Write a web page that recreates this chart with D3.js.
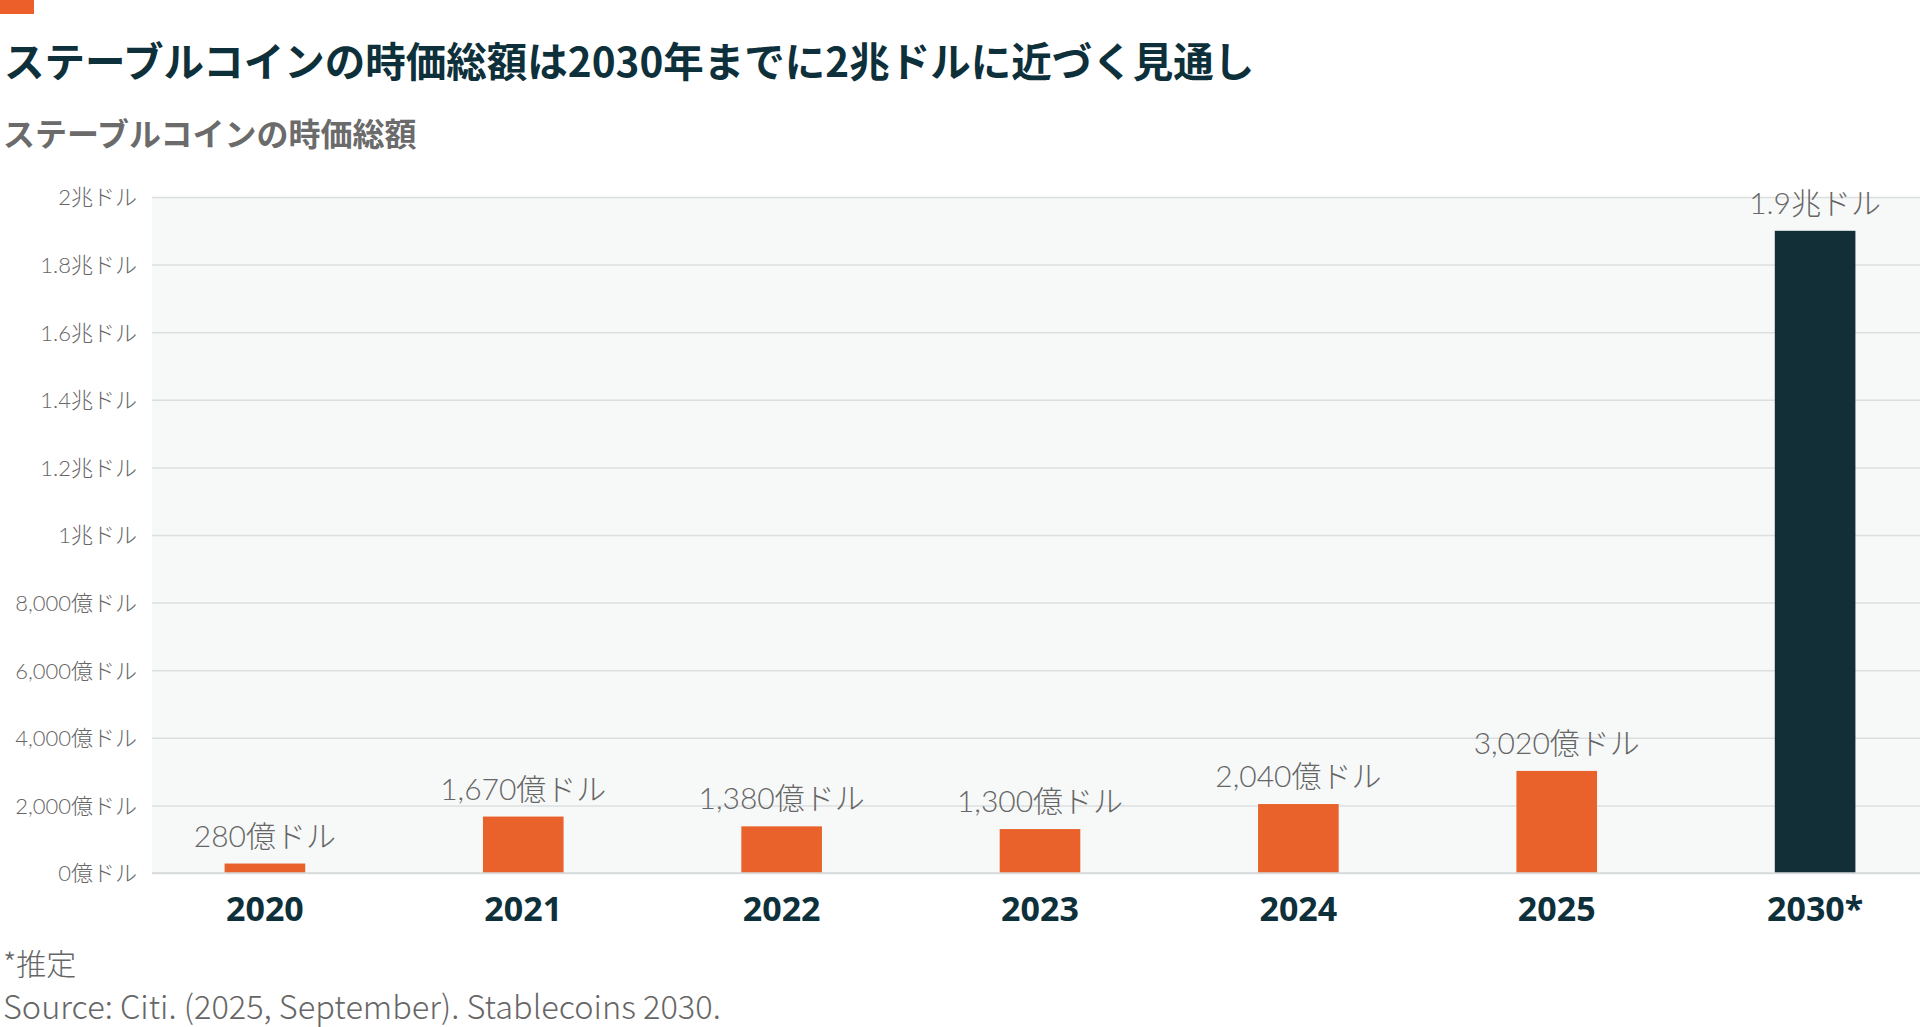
<!DOCTYPE html>
<html>
<head>
<meta charset="utf-8">
<script src="https://cdn.jsdelivr.net/npm/d3@7"></script>
<style>
  body { margin: 0; background: #fff; }
  svg text { font-family: "Noto Sans CJK JP", "Noto Sans", sans-serif; }
  .lbl { font-family: Lato, "Noto Sans CJK JP", sans-serif !important; }
</style>
</head>
<body>
<div id="vis-container"></div>
<script>
// data: stablecoin market cap, in 億ドル (100 million USD)
const years = ["2020", "2021", "2022", "2023", "2024", "2025", "2030*"];
const marketCap = [280, 1670, 1380, 1300, 2040, 3020, 19000];
const yTicks = [0, 2000, 4000, 6000, 8000, 10000, 12000, 14000, 16000, 18000, 20000];

const data = years.map((y, i) => ({ year: y, value: marketCap[i] }));

let width = 1920;
let height = 1027;
let margins = { top: 197, right: 0, bottom: 154, left: 152 };
let visWidth = width - margins.left - margins.right;
let visHeight = height - margins.top - margins.bottom;

let svg = d3.select("#vis-container").append("svg")
    .attr("width", width).attr("height", height);

// label format: 億ドル below 1兆, 兆ドル above
function fmt(v) {
    if (v >= 10000) return d3.format("~g")(v / 10000) + "兆ドル";
    return d3.format(",")(v) + "億ドル";
}

// header
svg.append("rect").attr("x", 0).attr("y", 0).attr("width", 34).attr("height", 14).attr("fill", "#ec5f2a");
svg.append("text").attr("x", 4).attr("y", 77)
    .text("ステーブルコインの時価総額は2030年までに2兆ドルに近づく見通し")
    .style("font-size", "40.5px").style("font-weight", 700).style("fill", "#0e303b");
svg.append("text").attr("x", 3).attr("y", 146)
    .text("ステーブルコインの時価総額")
    .style("font-size", "32px").style("font-weight", 700).style("fill", "#6b6b6b");

let viewport = svg.append("g")
    .attr("transform", "translate(" + margins.left + "," + margins.top + ")");

viewport.append("rect").attr("width", visWidth).attr("height", visHeight).attr("fill", "#f7f9f9");

let xScale = d3.scaleBand()
    .domain(years)
    .range([8, visWidth])
    .paddingInner(0.688)
    .paddingOuter(0.25);

let yScale = d3.scaleLinear()
    .domain([0, 20000])
    .range([visHeight, 0]);

// gridlines + y labels
let yAxis = viewport.append("g")
    .call(d3.axisLeft(yScale).tickValues(yTicks).tickSize(-visWidth).tickFormat(fmt).tickPadding(15));
yAxis.select(".domain").remove();
yAxis.selectAll(".tick line").attr("stroke", "#dcdfdf").attr("stroke-width", 1.5);
yAxis.selectAll(".tick text")
    .attr("class", "lbl")
    .style("font-size", "22px").style("font-weight", 300).style("fill", "#666")
    .attr("dy", "0.36em");

// bars
viewport.append("g").selectAll("rect")
    .data(data).enter().append("rect")
    .attr("x", d => xScale(d.year))
    .attr("y", d => yScale(d.value))
    .attr("width", xScale.bandwidth())
    .attr("height", d => visHeight - yScale(d.value))
    .attr("fill", d => d.year === "2030*" ? "#122e37" : "#e9612b");

// value labels
viewport.append("g").selectAll("text")
    .data(data).enter().append("text")
    .attr("class", "lbl")
    .attr("x", d => xScale(d.year) + xScale.bandwidth() / 2)
    .attr("y", d => yScale(d.value) - 17)
    .attr("text-anchor", "middle")
    .text(d => fmt(d.value))
    .style("font-size", "30px").style("font-weight", 300).style("fill", "#666");

// x axis
let xAxis = viewport.append("g")
    .attr("transform", "translate(0," + visHeight + ")")
    .call(d3.axisBottom(xScale).tickSize(0).tickPadding(24));
xAxis.select(".domain").attr("stroke", "#d6dada").attr("stroke-width", 1.5).attr("d", "M0,0H" + visWidth);
xAxis.selectAll(".tick text")
    .style("font-family", "'Noto Sans', sans-serif")
    .style("font-size", "34px").style("font-weight", 700).style("fill", "#0e303b")
    .attr("dy", "0.71em");

// footer
svg.append("text").attr("x", 3).attr("y", 975).text("*推定")
    .style("font-size", "30px").style("font-weight", 300).style("fill", "#666");
svg.append("text").attr("x", 3).attr("y", 1019).text("Source: Citi. (2025, September). Stablecoins 2030.")
    .style("font-size", "32.5px").style("font-weight", 300).style("fill", "#666");
</script>
</body>
</html>
